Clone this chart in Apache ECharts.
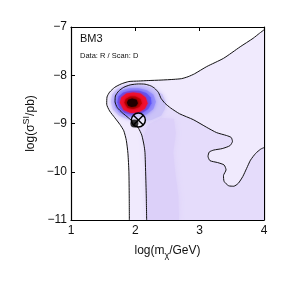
<!DOCTYPE html>
<html><head><meta charset="utf-8">
<script src="https://cdn.jsdelivr.net/npm/echarts@6/dist/echarts.min.js"></script>
<style>html,body{margin:0;padding:0;background:#fff}#c{width:291px;height:291px}</style>
</head><body><div id="c"></div>
<script>
// axis ticks
const xTicks = [1, 2, 3, 4];
const yTicks = [-11, -10, -9, -8, -7];

// outer contour line
const outerLine = [[1.907,-11],[1.905,-10.5],[1.90,-10.0],[1.885,-9.62],[1.86,-9.35],[1.82,-9.15],[1.76,-9.02],[1.68,-8.88],[1.60,-8.74],[1.555,-8.6],[1.56,-8.45],[1.60,-8.35],[1.68,-8.25],[1.78,-8.18],[1.90,-8.13],[2.05,-8.12],[2.2,-8.11],[2.4,-8.10],[2.6,-8.085],[2.72,-8.07],[2.82,-8.03],[2.92,-7.97],[3.11,-7.82],[3.37,-7.65],[3.63,-7.41],[3.83,-7.235],[3.93,-7.13],[4.0,-7.06]];
// inner contour line
const innerLine = [[2.176,-11],[2.17,-10.5],[2.16,-10.0],[2.15,-9.6],[2.135,-9.45],[2.10,-9.24],[2.05,-9.10],[1.97,-8.97],[1.89,-8.88],[1.80,-8.78],[1.72,-8.67],[1.685,-8.55],[1.69,-8.43],[1.74,-8.33],[1.82,-8.25],[1.92,-8.20],[2.05,-8.18],[2.15,-8.185],[2.24,-8.22],[2.30,-8.27],[2.36,-8.36],[2.40,-8.48],[2.46,-8.58],[2.55,-8.68],[2.69,-8.80],[2.90,-8.92],[3.11,-9.08],[3.265,-9.19],[3.42,-9.25],[3.49,-9.29],[3.51,-9.37],[3.47,-9.46],[3.35,-9.52],[3.22,-9.55],[3.15,-9.59],[3.13,-9.68],[3.16,-9.77],[3.28,-9.81],[3.38,-9.86],[3.41,-9.96],[3.37,-10.08],[3.38,-10.2],[3.45,-10.29],[3.53,-10.30],[3.60,-10.24],[3.67,-10.10],[3.73,-9.93],[3.79,-9.76],[3.87,-9.62],[3.95,-9.53],[4.0,-9.50]];
// darker band of density inside the inner region
const bandRegion = [[2.18,-11],[2.17,-10],[2.16,-9.5],[2.13,-9.25],[2.2,-9.02],[2.4,-8.88],[2.6,-8.9],[2.63,-9.2],[2.59,-9.6],[2.62,-10.0],[2.67,-10.5],[2.68,-11]];
// density peak levels (outer to inner)
const peakL1 = [[1.62,-8.55],[1.64,-8.40],[1.72,-8.28],[1.85,-8.21],[2.00,-8.20],[2.15,-8.22],[2.30,-8.28],[2.42,-8.40],[2.47,-8.55],[2.46,-8.70],[2.40,-8.84],[2.25,-8.93],[2.08,-8.95],[1.90,-8.92],[1.75,-8.84],[1.65,-8.71]];
const peakL2 = [[1.67,-8.55],[1.69,-8.42],[1.77,-8.32],[1.90,-8.27],[2.05,-8.27],[2.18,-8.31],[2.28,-8.40],[2.32,-8.55],[2.28,-8.70],[2.18,-8.81],[2.04,-8.87],[1.88,-8.85],[1.75,-8.77],[1.69,-8.67]];
const peakL3 = [[1.72,-8.56],[1.74,-8.44],[1.81,-8.36],[1.93,-8.32],[2.06,-8.32],[2.17,-8.37],[2.24,-8.46],[2.25,-8.58],[2.20,-8.70],[2.10,-8.79],[1.96,-8.82],[1.83,-8.78],[1.75,-8.68]];
const peakL4 = [[1.76,-8.57],[1.78,-8.46],[1.86,-8.38],[1.97,-8.36],[2.08,-8.38],[2.16,-8.46],[2.19,-8.58],[2.15,-8.69],[2.05,-8.77],[1.93,-8.78],[1.82,-8.72]];
const peakL5 = [[1.83,-8.57],[1.85,-8.49],[1.92,-8.44],[2.00,-8.44],[2.08,-8.49],[2.10,-8.58],[2.06,-8.66],[1.97,-8.70],[1.88,-8.68]];
const peakL6 = [[1.87,-8.57],[1.89,-8.51],[1.95,-8.48],[2.02,-8.51],[2.04,-8.58],[2.01,-8.64],[1.94,-8.66],[1.89,-8.63]];
// markers
const meanPoint = [[2.047,-8.93]];
const bestFit = [[1.985,-9.0]];

const outerFill = outerLine.concat([[4,-11]]);
const innerFill = innerLine.concat([[4,-11]]);

function poly(pts, fill, z, blur) {
  return {
    type: 'custom', data: pts, z: z, clip: true, silent: true,
    renderItem: function (params, api) {
      if (params.dataIndex !== 0) return null;
      return { type: 'polygon', shape: { points: pts.map(p => api.coord(p)) },
        style: { fill: fill, shadowBlur: blur || 0, shadowColor: fill } };
    }
  };
}
function contour(pts) {
  return { type: 'line', data: pts, z: 20, showSymbol: false, silent: true, smooth: 0.2,
    lineStyle: { color: '#111', width: 1 } };
}
const F = 'Liberation Sans, Arial, Helvetica, sans-serif';
const fmt = v => String(v).replace('-', '\u2212');

const chart = echarts.init(document.getElementById('c'));
chart.setOption({
  animation: false,
  grid: { left: 71, right: 27, top: 27, bottom: 71 },
  xAxis: [{
    type: 'value', min: 1, max: 4, interval: 1,
    name: '{a|log(m}{sub|\u03c7}{a|/GeV)}', nameLocation: 'middle', nameGap: 22, nameMoveOverlap: false,
    nameTextStyle: { rich: { a: { fontSize: 12, fontFamily: F, color: '#111' }, sub: { fontSize: 9, fontFamily: F, color: '#111', padding: [9, 0, 0, 0] } } },
    axisLine: { lineStyle: { color: '#000', width: 1.2 } },
    axisTick: { inside: true, length: 4, lineStyle: { color: '#000' } },
    axisLabel: { fontSize: 12, fontFamily: F, color: '#111', margin: 5, formatter: fmt },
    splitLine: { show: false }
  }, {
    type: 'value', min: 1, max: 4, interval: 1, position: 'top',
    axisLine: { show: true, lineStyle: { color: '#000', width: 1.2 } },
    axisTick: { inside: true, length: 4, lineStyle: { color: '#000' } },
    axisLabel: { show: false }, splitLine: { show: false }
  }],
  yAxis: [{
    type: 'value', min: -11, max: -7, interval: 1,
    name: '{a|log(\u03c3}{sup|SI}{a|/pb)}', nameLocation: 'middle', nameGap: 31, nameRotate: 90, nameMoveOverlap: false,
    nameTextStyle: { rich: { a: { fontSize: 12, fontFamily: F, color: '#111' }, sup: { fontSize: 9, fontFamily: F, color: '#111', padding: [0, 0, 9, 0] } } },
    axisLine: { lineStyle: { color: '#000', width: 1.2 } },
    axisTick: { inside: true, length: 4, lineStyle: { color: '#000' } },
    axisLabel: { fontSize: 12, fontFamily: F, color: '#111', margin: 4, formatter: fmt },
    splitLine: { show: false }
  }, {
    type: 'value', min: -11, max: -7, interval: 1, position: 'right',
    axisLine: { show: true, lineStyle: { color: '#000', width: 1.2 } },
    axisTick: { inside: true, length: 4, lineStyle: { color: '#000' } },
    axisLabel: { show: false }, splitLine: { show: false }
  }],
  graphic: [
    { type: 'text', left: 80, top: 33, z: 100, style: { text: 'BM3', fontSize: 11, fontFamily: F, fill: '#111' } },
    { type: 'text', left: 80, top: 52, z: 100, style: { text: 'Data: R / Scan: D', fontSize: 7.5, fontFamily: F, fill: '#111' } }
  ],
  series: [
    poly(outerFill, '#f0eafd', 1),
    poly(innerFill, '#e5dcfb', 2),
    poly(bandRegion, '#dcd0f9', 3, 6),
    poly(peakL1, '#cbc3f8', 4, 4),
    poly(peakL2, '#9a92fb', 5, 4),
    poly(peakL3, '#5e55f8', 6, 4),
    poly(peakL4, '#f01030', 7, 3),
    poly(peakL5, '#c00000', 8, 3),
    poly(peakL6, '#200000', 9, 3),
    contour(outerLine),
    contour(innerLine),
    {
      type: 'custom', data: meanPoint, z: 30, silent: true,
      renderItem: function (params, api) {
        const c = api.coord([api.value(0), api.value(1)]);
        const r = 7, d = r * 0.7071;
        return { type: 'group', children: [
          { type: 'circle', shape: { cx: c[0], cy: c[1], r: r }, style: { fill: 'rgba(255,255,255,0.6)', stroke: '#000', lineWidth: 1.5 } },
          { type: 'line', shape: { x1: c[0] - d, y1: c[1] - d, x2: c[0] + d, y2: c[1] + d }, style: { stroke: '#000', lineWidth: 1.5 } },
          { type: 'line', shape: { x1: c[0] - d, y1: c[1] + d, x2: c[0] + d, y2: c[1] - d }, style: { stroke: '#000', lineWidth: 1.5 } }
        ] };
      }
    },
    { type: 'scatter', data: bestFit, z: 31, symbol: 'circle', symbolSize: 8, silent: true, itemStyle: { color: '#000' } }
  ]
});
</script></body></html>
